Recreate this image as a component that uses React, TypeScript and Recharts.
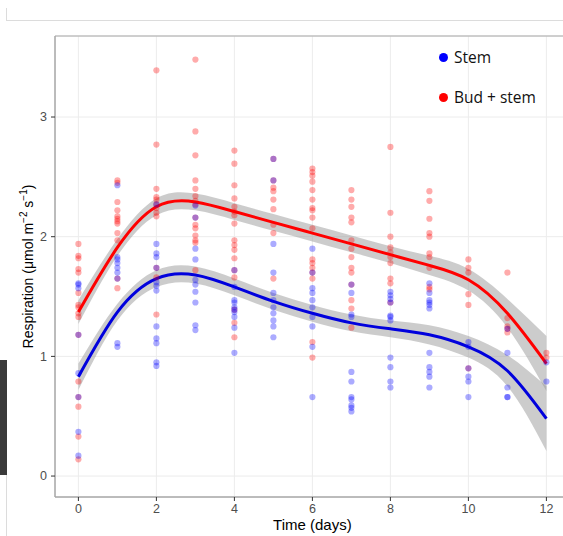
import React from "react";
import {
  ComposedChart,
  XAxis,
  YAxis,
  CartesianGrid,
  Scatter,
  Line,
  Area,
  ReferenceArea,
} from "recharts";

const days = [0, 1, 2, 3, 4, 5, 6, 7, 8, 9, 10, 11, 12];
const xTicks = [0, 2, 4, 6, 8, 10, 12];
const yTicks = [0, 1, 2, 3];

// observed values per day (index = day)
const budStemObs: number[][] = [
  [1.94, 1.84, 1.82, 1.73, 1.7, 1.53, 1.43, 1.41, 1.36, 1.33, 1.18, 0.79, 0.66, 0.58, 0.33, 0.14],
  [2.47, 2.45, 2.29, 2.22, 2.17, 2.15, 2.13, 2.11, 2.03, 1.97, 1.65, 1.57],
  [3.39, 2.77, 2.4, 2.33, 2.31, 2.27, 2.24, 2.2, 2.17, 1.74, 1.66, 1.35],
  [3.48, 2.88, 2.68, 2.47, 2.4, 2.34, 2.3, 2.27, 2.16, 2.1, 2.07, 2.01, 1.97, 1.95, 1.72],
  [2.72, 2.61, 2.43, 2.32, 2.25, 2.21, 2.18, 2.11, 1.97, 1.93, 1.89, 1.82, 1.72, 1.66, 1.39, 1.28, 1.16],
  [2.65, 2.47, 2.41, 2.38, 2.31, 2.23, 2.1, 2.03, 1.65],
  [2.57, 2.54, 2.51, 2.46, 2.39, 2.31, 2.24, 2.22, 2.16, 2.07, 1.81, 1.78, 1.74, 1.7, 1.65, 1.12, 0.99],
  [2.39, 2.31, 2.25, 2.16, 2.12, 1.97, 1.9, 1.83, 1.74, 1.7, 1.6, 1.47, 1.4, 1.24],
  [2.75, 2.2, 2.0, 1.91, 1.87, 1.83, 1.78, 1.65, 1.61, 1.45],
  [2.38, 2.3, 2.15, 2.03, 2.0, 1.86, 1.83, 1.74, 1.58, 1.56],
  [1.81, 1.74, 1.7, 1.52, 1.43, 0.9],
  [1.7, 1.32, 1.25, 1.23, 1.2],
  [1.03, 0.99],
];

const stemObs: number[][] = [
  [1.61, 1.6, 1.57, 1.18, 0.86, 0.66, 0.37, 0.17],
  [2.43, 1.83, 1.81, 1.78, 1.74, 1.7, 1.65, 1.11, 1.08],
  [2.27, 1.94, 1.86, 1.83, 1.74, 1.62, 1.59, 1.55, 1.25, 1.15, 1.11, 0.95, 0.92],
  [2.26, 2.16, 1.9, 1.81, 1.64, 1.6, 1.54, 1.45, 1.26, 1.22],
  [1.72, 1.58, 1.47, 1.45, 1.41, 1.39, 1.37, 1.33, 1.24, 1.03],
  [2.65, 2.47, 1.94, 1.7, 1.53, 1.47, 1.41, 1.36, 1.3, 1.25, 1.16],
  [1.9, 1.7, 1.57, 1.53, 1.47, 1.41, 1.33, 1.25, 1.08, 0.66],
  [1.6, 1.53, 1.35, 1.33, 0.87, 0.79, 0.66, 0.64, 0.59, 0.57, 0.54],
  [1.54, 1.51, 1.48, 1.45, 1.34, 1.33, 1.3, 0.99, 0.91, 0.79, 0.74],
  [1.61, 1.53, 1.47, 1.45, 1.43, 1.4, 1.03, 0.91, 0.87, 0.83, 0.74],
  [1.12, 1.08, 0.9, 0.83, 0.79, 0.66],
  [1.23, 1.03, 0.74, 0.66, 0.66],
  [0.95, 0.79],
];

// smoothed fits and confidence bands
const budStemFit = [1.37, 1.91, 2.25, 2.29, 2.21, 2.12, 2.03, 1.94, 1.85, 1.76, 1.64, 1.36, 0.94];
const budStemLow = [1.27, 1.84, 2.18, 2.22, 2.14, 2.05, 1.96, 1.87, 1.78, 1.68, 1.55, 1.24, 0.71];
const budStemHigh = [1.47, 1.98, 2.32, 2.36, 2.28, 2.19, 2.1, 2.01, 1.92, 1.84, 1.73, 1.48, 1.17];
const stemFit = [0.83, 1.37, 1.65, 1.68, 1.58, 1.46, 1.36, 1.28, 1.23, 1.18, 1.08, 0.88, 0.48];
const stemLow = [0.72, 1.3, 1.58, 1.61, 1.51, 1.39, 1.29, 1.21, 1.16, 1.1, 0.99, 0.75, 0.21];
const stemHigh = [0.94, 1.44, 1.72, 1.75, 1.65, 1.53, 1.43, 1.35, 1.3, 1.26, 1.17, 1.01, 0.75];

const fitRows = days.map((d, i) => ({
  day: d,
  bud: budStemFit[i],
  stem: stemFit[i],
  budBand: [budStemLow[i], budStemHigh[i]],
  stemBand: [stemLow[i], stemHigh[i]],
}));

const toPoints = (obs: number[][]) =>
  obs.flatMap((vals, i) => vals.map((v) => ({ day: days[i], value: v })));
const budStemPoints = toPoints(budStemObs);
const stemPoints = toPoints(stemObs);

const X_MIN = -0.6;
const X_MAX = 12.6;
const Y_MIN = -0.175;
const Y_MAX = 3.677;

const dot = (color: string) => (props: any) => (
  <circle cx={props.cx} cy={props.cy} r={3.1} fill={color} fillOpacity={0.33} />
);

const YLabel = (props: any) => {
  const vb = props.viewBox || { x: 8, y: 36, width: 47, height: 461 };
  const cx = 33;
  const cy = vb.y + vb.height / 2;
  return (
    <text
      x={cx}
      y={cy}
      transform={`rotate(-90, ${cx}, ${cy})`}
      textAnchor="middle"
      fontFamily="Liberation Sans, Arial, sans-serif"
      fontSize={14}
      fill="#000"
    >
      Respiration (μmol m
      <tspan dy={-6} fontSize={10}>−2</tspan>
      <tspan dy={6}> s</tspan>
      <tspan dy={-6} fontSize={10}>−1</tspan>
      <tspan dy={6}>)</tspan>
    </text>
  );
};

const XLabel = (props: any) => {
  const vb = props.viewBox || { x: 55, y: 497, width: 515, height: 39 };
  return (
    <text
      x={vb.x + vb.width / 2}
      y={530}
      textAnchor="middle"
      fontFamily="Liberation Sans, Arial, sans-serif"
      fontSize={15}
      fill="#000"
    >
      Time (days)
    </text>
  );
};

const legendItems = [
  { name: "Stem", color: "#0000ff" },
  { name: "Bud + stem", color: "#ff0000" },
];

const LegendBox = () => (
  <div
    style={{
      position: "absolute",
      left: 439,
      top: 37,
      fontFamily: "Open Sans, sans-serif",
      fontSize: 15.5,
      color: "#111",
    }}
  >
    {legendItems.map((it) => (
      <div key={it.name} style={{ display: "flex", alignItems: "center", height: 40 }}>
        <span
          style={{
            display: "inline-block",
            width: 9,
            height: 9,
            borderRadius: "50%",
            background: it.color,
            marginRight: 6,
          }}
        />
        <span>{it.name}</span>
      </div>
    ))}
  </div>
);

export default function App() {
  return (
    <div
      style={{
        position: "absolute",
        left: 0,
        top: 0,
        width: 563,
        height: 536,
        overflow: "hidden",
        background: "#fff",
      }}
    >
      {/* screenshot artifacts */}
      <div style={{ position: "absolute", left: 6, top: 20, width: 560, height: 1, background: "#dcdcdc" }} />
      <div style={{ position: "absolute", left: 6, top: 8, width: 1, height: 13, background: "#dcdcdc" }} />
      <div style={{ position: "absolute", left: 0, top: 360, width: 7, height: 115, background: "#3a3a3a" }} />
      <div style={{ position: "absolute", left: 6, top: 475, width: 1, height: 61, background: "#dcdcdc" }} />
      <div style={{ position: "absolute", left: 0, top: 0 }}>
        <ComposedChart
          width={600}
          height={536}
          data={fitRows}
          margin={{ top: 36, right: 30.2, bottom: 0, left: 8 }}
        >
          <CartesianGrid stroke="#ececec" strokeWidth={1} />
          <ReferenceArea
            x1={X_MIN}
            x2={X_MAX}
            y1={Y_MIN}
            y2={Y_MAX}
            fill="none"
            stroke="#a8a8a8"
            strokeWidth={1}
            ifOverflow="visible"
          />
          <XAxis
            dataKey="day"
            type="number"
            domain={[X_MIN, X_MAX]}
            ticks={xTicks}
            allowDataOverflow
            height={39}
            tickSize={4}
            tickMargin={3}
            stroke="#a8a8a8"
            tickLine={{ stroke: "#333" }}
            tick={{ fill: "#4d4d4d", fontSize: 12.5, fontFamily: "Liberation Sans, Arial, sans-serif" }}
            label={<XLabel />}
          />
          <YAxis
            type="number"
            domain={[Y_MIN, Y_MAX]}
            ticks={yTicks}
            allowDataOverflow
            width={47}
            tickSize={4}
            tickMargin={4}
            stroke="#a8a8a8"
            tickLine={{ stroke: "#333" }}
            tick={{ fill: "#4d4d4d", fontSize: 12.5, fontFamily: "Liberation Sans, Arial, sans-serif" }}
            label={<YLabel />}
          />
          <Scatter
            name="Bud + stem points"
            data={budStemPoints}
            dataKey="value"
            shape={dot("#ff0000")}
            isAnimationActive={false}
          />
          <Scatter
            name="Stem points"
            data={stemPoints}
            dataKey="value"
            shape={dot("#0000ff")}
            isAnimationActive={false}
          />
          <Area
            dataKey="budBand"
            type="natural"
            stroke="none"
            fill="#999999"
            fillOpacity={0.5}
            isAnimationActive={false}
          />
          <Area
            dataKey="stemBand"
            type="natural"
            stroke="none"
            fill="#999999"
            fillOpacity={0.5}
            isAnimationActive={false}
          />
          <Line
            dataKey="bud"
            type="natural"
            stroke="#ff0000"
            strokeWidth={3}
            dot={false}
            activeDot={false}
            isAnimationActive={false}
          />
          <Line
            dataKey="stem"
            type="natural"
            stroke="#0000dd"
            strokeWidth={3}
            dot={false}
            activeDot={false}
            isAnimationActive={false}
          />
        </ComposedChart>
      </div>
      <LegendBox />
    </div>
  );
}
